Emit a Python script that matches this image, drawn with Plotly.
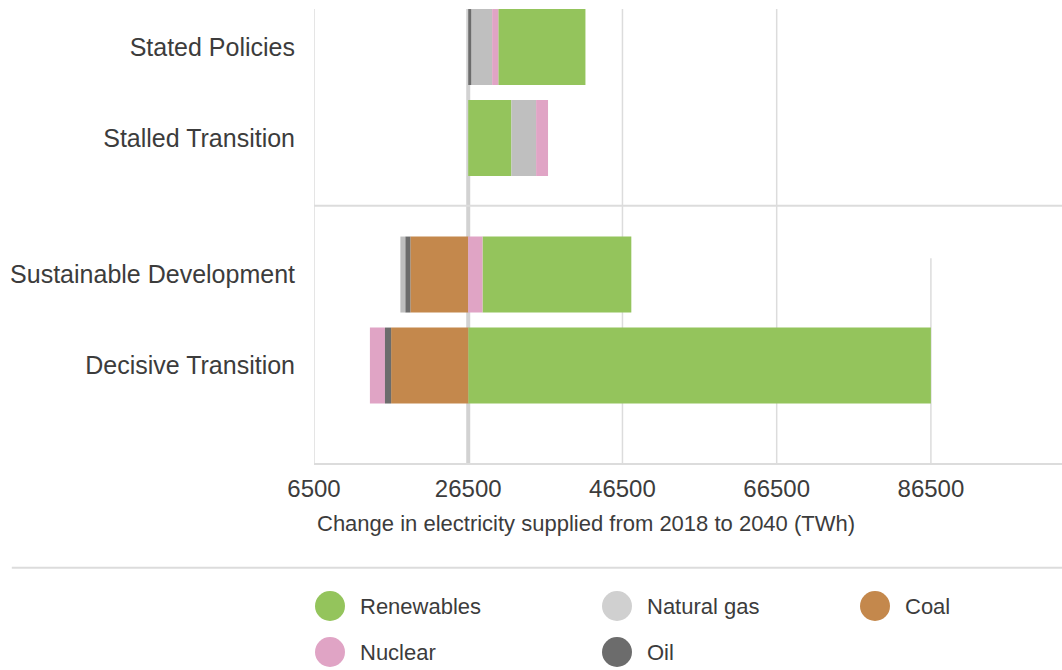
import plotly.graph_objects as go

# 2018 supply, the point every bar grows from
BASELINE = 26500

scenarios = ["Stated Policies", "Stalled Transition", "Sustainable Development", "Decisive Transition"]
# y slots (gap between the two scenario groups)
y_pos = [0, 1, 2.5, 3.5]

renewables = [11300, 5600, 19300, 60000]
natural_gas = [2700, 3200, -650, 0]
nuclear = [800, 1550, 1850, -1950]
coal = [0, 0, -7500, -10000]
oil = [400, 0, -650, -800]

series = {
    "Renewables": renewables,
    "Natural gas": natural_gas,
    "Coal": coal,
    "Nuclear": nuclear,
    "Oil": oil,
}
colors = {
    "Renewables": "#94C45C",
    "Natural gas": "#BFBFBF",
    "Coal": "#C4884C",
    "Nuclear": "#E0A4C5",
    "Oil": "#6C6C6C",
}
legend_colors = dict(colors, **{"Natural gas": "#D0D0D0"})

# stacking order from the baseline outward, per scenario
stack_order = [
    ["Oil", "Natural gas", "Nuclear", "Renewables"],
    ["Renewables", "Natural gas", "Nuclear"],
    ["Nuclear", "Renewables", "Coal", "Oil", "Natural gas"],
    ["Renewables", "Coal", "Oil", "Nuclear"],
]

x_ticks = [6500, 26500, 46500, 66500, 86500]
TEXT = "#3c3c3c"
GRID = "#dcdcdc"
FONT = "Liberation Sans, Arial, sans-serif"

# work out where each segment starts
bases = {k: [0] * len(scenarios) for k in series}
for i, order in enumerate(stack_order):
    pos, neg = BASELINE, BASELINE
    for name in order:
        v = series[name][i]
        if v >= 0:
            bases[name][i] = pos
            pos += v
        else:
            bases[name][i] = neg
            neg += v

fig = go.Figure()
for name, vals in series.items():
    fig.add_trace(go.Bar(
        y=y_pos, x=vals, base=bases[name], orientation="h", name=name,
        marker=dict(color=colors[name], line=dict(width=0)),
        width=0.835, showlegend=False,
    ))

fig.update_layout(
    width=1062, height=670,
    margin=dict(l=314, r=0, t=9, b=207),
    paper_bgcolor="white", plot_bgcolor="white",
    barmode="overlay",
    font=dict(family=FONT, color=TEXT),
    xaxis=dict(
        range=[6500, 103500], tickvals=x_ticks, tickformat="d",
        showgrid=False, zeroline=False, automargin=False,
        showline=True, linecolor=GRID, linewidth=2,
        ticks="outside", ticklen=3, tickcolor="rgba(0,0,0,0)",
        tickfont=dict(size=24, color=TEXT),
    ),
    yaxis=dict(
        range=[4.571, -0.418], tickvals=y_pos, ticktext=scenarios,
        showgrid=False, zeroline=False, showline=False, automargin=False,
        ticks="outside", ticklen=13, tickcolor="rgba(0,0,0,0)",
        tickfont=dict(size=25, color=TEXT),
    ),
)

# grid lines (the 86500 one only runs through the lower group)
grid_top = {86500: 2.32}
for t in x_ticks:
    if t == BASELINE:
        continue
    if t in grid_top:
        fig.add_shape(type="line", xref="x", yref="y", x0=t, x1=t, y0=grid_top[t], y1=4.571,
                      line=dict(color=GRID, width=1.5), layer="below")
    else:
        fig.add_shape(type="line", xref="x", yref="paper", x0=t, x1=t, y0=0, y1=1,
                      line=dict(color=GRID, width=1.5), layer="below")

# baseline
fig.add_shape(type="line", xref="x", yref="paper", x0=BASELINE, x1=BASELINE, y0=0, y1=1,
              line=dict(color="#d2d2d2", width=4), layer="below")
# separator between the two groups
fig.add_shape(type="line", xref="paper", yref="y", x0=0, x1=1, y0=1.745, y1=1.745,
              line=dict(color=GRID, width=2), layer="below")
# separator above the legend
fig.add_shape(type="line", xref="paper", yref="paper", x0=-0.404, x1=1, y0=-0.231, y1=-0.231,
              line=dict(color=GRID, width=2))

fig.add_annotation(
    text="Change in electricity supplied from 2018 to 2040 (TWh)",
    xref="paper", yref="paper", x=0.3636, y=-0.134, xanchor="center", yanchor="middle",
    showarrow=False, font=dict(size=22, color=TEXT),
)

# legend built by hand so the swatches can be big circles
legend_items = [
    ("Renewables", 330, 606),
    ("Natural gas", 617, 606),
    ("Coal", 875, 606),
    ("Nuclear", 330, 652),
    ("Oil", 617, 652),
]
for name, px_x, px_y in legend_items:
    xp = (px_x - 314) / 748
    yp = (463 - px_y) / 454
    fig.add_shape(type="circle", xref="paper", yref="paper", xsizemode="pixel", ysizemode="pixel",
                  xanchor=xp, yanchor=yp, x0=-15, x1=15, y0=-15, y1=15,
                  fillcolor=legend_colors[name], line=dict(width=0))
    fig.add_annotation(text=name, xref="paper", yref="paper", x=xp + 28 / 748, y=yp,
                       xanchor="left", yanchor="middle", showarrow=False,
                       font=dict(size=22, color=TEXT))

# drop the default body margin so the figure fills the window
fig.write_html("out.html", config={"displayModeBar": False},
               post_script="document.body.style.margin='0';document.body.style.overflow='hidden';")
